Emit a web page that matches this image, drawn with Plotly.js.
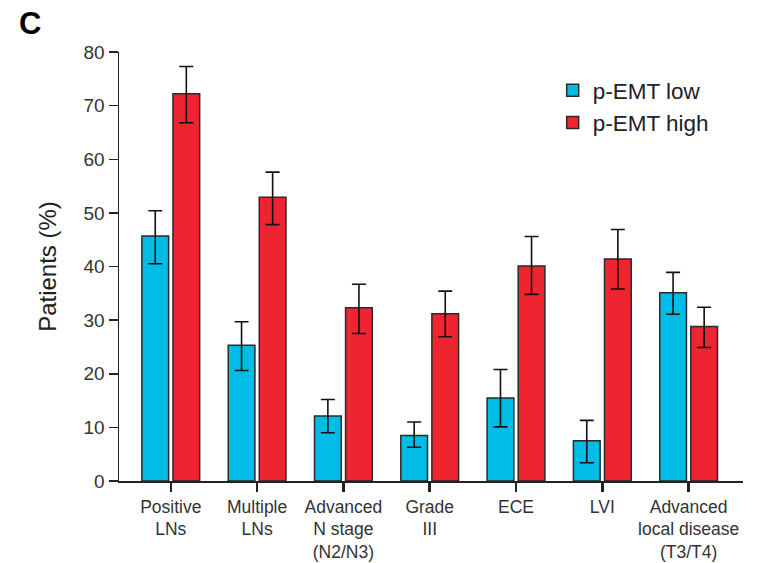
<!DOCTYPE html>
<html>
<head>
<meta charset="utf-8">
<script src="https://cdn.plot.ly/plotly-3.0.1.min.js"></script>
<style>body{margin:0;background:#fff}#chart{width:763px;height:563px}</style>
</head>
<body>
<div id="chart"></div>
<script>
const categories = ["Positive<br>LNs", "Multiple<br>LNs", "Advanced<br>N stage<br>(N2/N3)", "Grade<br>III", "ECE", "LVI", "Advanced<br>local disease<br>(T3/T4)"];
const lowValues = [45.7, 25.3, 12.1, 8.5, 15.5, 7.5, 35.1];
const lowErrPlus = [4.7, 4.4, 3.1, 2.5, 5.3, 3.8, 3.8];
const lowErrMinus = [5.2, 4.7, 3.1, 2.2, 5.4, 4.1, 4.0];
const highValues = [72.2, 52.9, 32.3, 31.2, 40.1, 41.4, 28.8];
const highErrPlus = [5.1, 4.7, 4.4, 4.2, 5.5, 5.5, 3.6];
const highErrMinus = [5.4, 5.1, 4.8, 4.3, 5.3, 5.6, 3.9];
const seriesNames = ["p-EMT low", "p-EMT high"];

const font = "Arial, 'Liberation Sans', Helvetica, sans-serif";
const errStyle = {color: "#111", thickness: 1.6, width: 7};

const traces = [
  {type: "bar", name: seriesNames[0], x: categories, y: lowValues, legendgroup: "a",
   marker: {color: "#00BCE6", line: {color: "#2a2a2a", width: 1.5}},
   error_y: Object.assign({type: "data", symmetric: false, array: lowErrPlus, arrayminus: lowErrMinus}, errStyle)},
  {type: "bar", name: seriesNames[1], x: categories, y: highValues, legendgroup: "b",
   marker: {color: "#EE2430", line: {color: "#2a2a2a", width: 1.5}},
   error_y: Object.assign({type: "data", symmetric: false, array: highErrPlus, arrayminus: highErrMinus}, errStyle)}
];

const layout = {
  width: 763, height: 563,
  margin: {l: 119, r: 20, t: 52, b: 82},
  paper_bgcolor: "#fff", plot_bgcolor: "#fff",
  font: {family: font, color: "#333"},
  barmode: "group", bargap: 0.28, bargroupgap: 0.14,
  showlegend: true,
  legend: {x: 0.695, y: 0.96, xanchor: "left", yanchor: "top",
    font: {size: 22.5, color: "#222"}, traceorder: "grouped", tracegroupgap: 0,
    bgcolor: "rgba(0,0,0,0)"},
  xaxis: {
    type: "category", range: [-0.6, 6.63], showgrid: false, zeroline: false,
    showline: true, linecolor: "#222", linewidth: 1.5,
    ticks: "outside", ticklen: 9, tickwidth: 2.5, tickcolor: "#222",
    tickfont: {size: 17.5, color: "#333"}, fixedrange: true
  },
  yaxis: {
    range: [0, 80], tickvals: [0,10,20,30,40,50,60,70,80], showgrid: false, zeroline: false,
    showline: true, linecolor: "#222", linewidth: 1.5,
    ticks: "outside", ticklen: 9, tickwidth: 1.5, tickcolor: "#222",
    tickfont: {size: 19, color: "#333"},
    title: {text: "Patients (%)", font: {size: 24, color: "#222"}, standoff: 20}
  },
  annotations: [
    {text: "<b>C</b>", xref: "paper", yref: "paper", x: (30-119)/624, y: (481-24)/429,
     xanchor: "center", yanchor: "middle", showarrow: false, font: {size: 31, color: "#000", family: font}}
  ]
};

Plotly.newPlot("chart", traces, layout, {displayModeBar: false, staticPlot: true});
</script>
</body>
</html>
